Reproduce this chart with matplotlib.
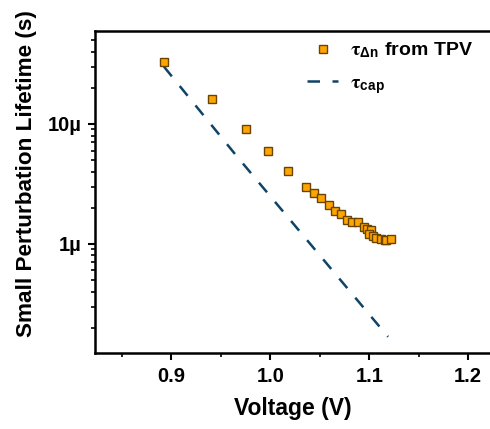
import numpy as np
import matplotlib
matplotlib.use('Agg')
import matplotlib.pyplot as plt
from matplotlib.ticker import FixedLocator, FixedFormatter, LogLocator, NullFormatter, MultipleLocator

# TPV small perturbation lifetime (s) vs voltage (V)
v_tpv = [0.893, 0.9415, 0.975, 0.998, 1.018, 1.0366, 1.0437, 1.0515, 1.0589, 1.065,
         1.0711, 1.0771, 1.0826, 1.0887, 1.0943, 1.0978, 1.1018, 1.100, 1.1034, 1.107,
         1.1119, 1.1155, 1.117, 1.1216]
tau_tpv = [3.3e-5, 1.62e-5, 9.1e-6, 5.96e-6, 4.07e-6, 2.99e-6, 2.64e-6, 2.42e-6, 2.10e-6, 1.87e-6,
           1.78e-6, 1.58e-6, 1.52e-6, 1.51e-6, 1.37e-6, 1.33e-6, 1.30e-6, 1.20e-6, 1.17e-6, 1.13e-6,
           1.10e-6, 1.08e-6, 1.07e-6, 1.10e-6]

# capacitive lifetime (dashed line)
v_cap = [0.8926, 0.966, 1.119]
tau_cap = [3.0e-5, 5.4e-6, 1.68e-7]

y_ticks = [1e-6, 1e-5]
y_labels = ['1µ', '10µ']

plt.rcParams['font.family'] = ['Liberation Sans', 'DejaVu Sans']
plt.rcParams['font.weight'] = 'bold'
plt.rcParams['mathtext.fontset'] = 'custom'
plt.rcParams['mathtext.rm'] = 'STIXGeneral'
plt.rcParams['mathtext.it'] = 'STIXGeneral'
plt.rcParams['mathtext.bf'] = 'Liberation Sans:bold'

fig = plt.figure(figsize=(4.9, 4.29), dpi=100)
ax = fig.add_axes([0.194, 0.178, 0.806, 0.75])

ax.plot(v_tpv, tau_tpv, 's', color='#FFA500', markeredgecolor='#6b4300',
        markeredgewidth=1.0, markersize=5.5, label=r'$\mathrm{\tau}_{\mathbf{\Delta n}}$ from TPV', zorder=3)
ax.plot(v_cap, tau_cap, color='#0f4468', lw=1.8, dashes=(5, 5),
        label=r'$\mathrm{\tau}_{\mathbf{cap}}$')

ax.set_yscale('log')
ax.set_xlim(0.823, 1.222)
ax.set_ylim(1.24e-7, 5.96e-5)

ax.xaxis.set_major_locator(MultipleLocator(0.1))
ax.xaxis.set_minor_locator(MultipleLocator(0.05))
ax.xaxis.set_major_formatter(plt.FuncFormatter(lambda x, p: '%.1f' % x))
ax.yaxis.set_major_locator(FixedLocator(y_ticks))
ax.yaxis.set_major_formatter(FixedFormatter(y_labels))
ax.yaxis.set_minor_locator(LogLocator(base=10, subs=np.arange(2, 10)))
ax.yaxis.set_minor_formatter(NullFormatter())

for s in ['left', 'bottom', 'top']:
    ax.spines[s].set_linewidth(1.8)
ax.spines['right'].set_visible(False)
ax.tick_params(which='major', direction='out', length=5, width=1.5, labelsize=14.5, pad=5)
ax.tick_params(which='minor', direction='out', length=3, width=1.2)
ax.tick_params(top=False, right=False, which='both')

ax.set_xlabel('Voltage (V)', fontsize=16.5, fontweight='bold', labelpad=8)
ax.set_ylabel('Small Perturbation Lifetime (s)', fontsize=16.2, fontweight='bold')
ax.yaxis.set_label_coords(-0.148, 0.556)

leg = ax.legend(loc='upper right', frameon=False, fontsize=14, handlelength=1.55,
                handletextpad=0.65, borderaxespad=0.1, labelspacing=0.72,
                bbox_to_anchor=(0.982, 1.0))

fig.savefig('out.png', dpi=100)
